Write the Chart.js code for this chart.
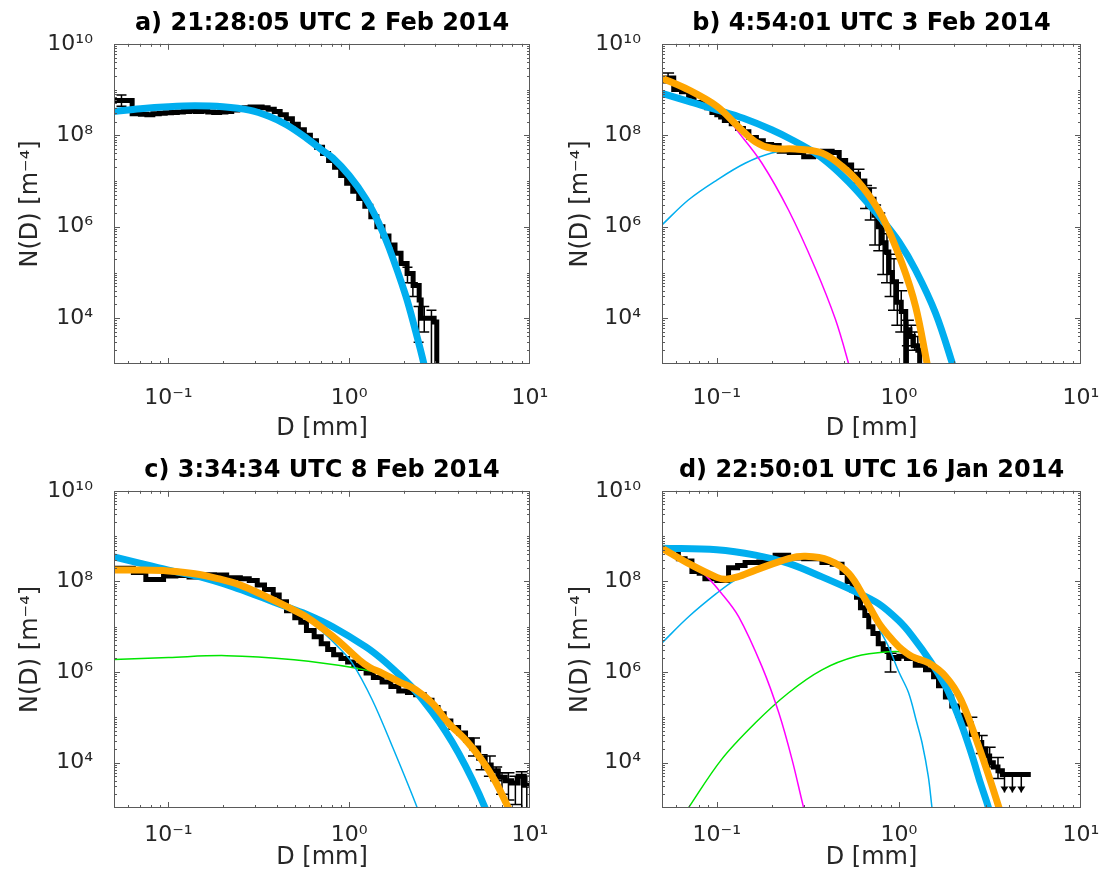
<!DOCTYPE html>
<html>
<head>
<meta charset="utf-8">
<title>N(D) fits</title>
<script src="https://cdn.jsdelivr.net/npm/chart.js@4.4.1/dist/chart.umd.min.js"></script>
<style>
  html, body { margin: 0; padding: 0; background: #fff; }
  #page { position: relative; width: 1100px; height: 886px; }
  canvas { position: absolute; }
</style>
</head>
<body>
<div id="page">
  <canvas id="pa" width="550" height="443" style="left:0;top:0"></canvas>
  <canvas id="pb" width="550" height="443" style="left:550px;top:0"></canvas>
  <canvas id="pc" width="550" height="443" style="left:0;top:443px"></canvas>
  <canvas id="pd" width="550" height="443" style="left:550px;top:443px"></canvas>
</div>
<script>
// tick values
const xTicks = [0.1, 1, 10];
const yTicks = [1e4, 1e6, 1e8, 1e10];

// a) 21:28:05 UTC 2 Feb 2014
const aD = [0.05, 0.063, 0.07, 0.076, 0.082, 0.089, 0.096, 0.104, 0.112, 0.121, 0.131, 0.141, 0.153, 0.165, 0.178, 0.192, 0.208, 0.224, 0.242, 0.262, 0.283, 0.305, 0.33, 0.356, 0.385, 0.415, 0.449, 0.485, 0.523, 0.565, 0.61, 0.659, 0.712, 0.769, 0.83, 0.897, 0.968, 1.046, 1.129, 1.22, 1.317, 1.422, 1.536, 1.659, 1.792, 1.935, 2.09, 2.257, 2.438, 2.5, 2.75, 2.95, 3.05];
const aN = [5.75e8, 2.95e8, 2.88e8, 2.82e8, 2.95e8, 3.02e8, 3.09e8, 3.16e8, 3.24e8, 3.31e8, 3.39e8, 3.31e8, 3.39e8, 3.24e8, 3.16e8, 3.24e8, 3.31e8, 3.55e8, 3.8e8, 3.98e8, 4.17e8, 4.17e8, 3.98e8, 3.72e8, 3.31e8, 2.82e8, 2.29e8, 1.74e8, 1.32e8, 1.0e8, 7.6e7, 5.5e7, 3.98e7, 2.82e7, 2.0e7, 1.32e7, 8.9e6, 6.0e6, 4.17e6, 2.82e6, 1.66e6, 1.0e6, 6.3e5, 4.0e5, 2.63e5, 1.58e5, 9.5e4, 5.2e4, 2.5e4, 1.0e4, 1.0e4, 8.3e3, 1e2];
const aErrD = [0.055, 2.1, 2.25, 2.42, 2.6, 2.85];
const aErrLo = [4.3e8, 6e4, 3.0e4, 3.0e3, 5e3, 1e2];
const aErrHi = [7.6e8, 1.3e5, 6e4, 1.8e4, 1.8e4, 1.5e4];
const aFitD = [0.05, 0.07, 0.1, 0.14, 0.2, 0.28, 0.36, 0.45, 0.58, 0.7, 0.81, 1.0, 1.24, 1.45, 1.66, 2.05, 2.3, 2.59, 2.7];
const aFitN = [3.3e8, 3.8e8, 4.2e8, 4.4e8, 4.2e8, 3.55e8, 2.6e8, 1.7e8, 8.7e7, 4.9e7, 3.2e7, 1.32e7, 4.0e6, 1.26e6, 3.5e5, 3.2e4, 6.3e3, 1.0e3, 4e2];

// b) 4:54:01 UTC 3 Feb 2014
const bD = [0.05, 0.058, 0.064, 0.07, 0.075, 0.082, 0.088, 0.094, 0.1, 0.105, 0.11, 0.12, 0.13, 0.14, 0.15, 0.165, 0.18, 0.2, 0.22, 0.25, 0.3, 0.34, 0.38, 0.43, 0.47, 0.51, 0.55, 0.6, 0.65, 0.69, 0.73, 0.77, 0.81, 0.85, 0.88, 0.92, 0.97, 1.03, 1.09, 1.1, 1.15, 1.2, 1.27, 1.3];
const bN = [1.78e9, 1.0e9, 8.9e8, 7.1e8, 5.2e8, 5.0e8, 4.0e8, 3.16e8, 2.82e8, 2.5e8, 2.1e8, 1.78e8, 1.41e8, 1.2e8, 8.9e7, 7.6e7, 6.3e7, 6.0e7, 4.5e7, 4.2e7, 3.4e7, 3.55e7, 4.5e7, 4.2e7, 2.8e7, 2.24e7, 1.41e7, 1.0e7, 6.3e6, 4.0e6, 1.78e6, 1.0e6, 4.5e5, 2.8e5, 1.0e5, 6.3e4, 2.24e4, 1.41e4, 1e2, 5.6e3, 4.0e3, 2.5e3, 2.0e3, 1e2];
const bErrD = [0.054, 0.6, 0.66, 0.7, 0.74, 0.78, 0.82, 0.86, 0.9, 0.94, 0.98, 1.03, 1.12, 1.17, 1.22, 1.27];
const bErrLo = [1.4e9, 9e6, 2.5e6, 1.4e6, 4e5, 3e5, 9e4, 6e4, 3e4, 1.5e4, 7e3, 5e3, 2.5e3, 2.5e3, 2e3, 2e3];
const bErrHi = [2.3e9, 1.8e7, 8e6, 7e6, 3e6, 2e6, 1e6, 7e5, 2.5e5, 2e5, 6e4, 4e4, 9e3, 7e3, 5e3, 4e3];
const bFitD = [0.05, 0.07, 0.1, 0.14, 0.2, 0.26, 0.347, 0.43, 0.53, 0.63, 0.81, 1.0, 1.236, 1.59, 1.97, 2.1];
const bFitN = [8.3e8, 5.5e8, 3.6e8, 2.35e8, 1.32e8, 7.9e7, 4.1e7, 2.1e7, 9.5e6, 4.5e6, 1.4e6, 4.7e5, 1.12e5, 1.29e4, 1.0e3, 4e2];
const bSumD = [0.05, 0.07, 0.1, 0.131, 0.163, 0.2, 0.27, 0.378, 0.487, 0.628, 0.81, 1.04, 1.236, 1.43, 1.5];
const bSumN = [1.78e9, 9.8e8, 4.3e8, 1.55e8, 7.2e7, 5.2e7, 5.0e7, 4.1e7, 2.1e7, 7.6e6, 1.66e6, 1.58e5, 1.78e4, 1.0e3, 4e2];
const bSmallD = [0.05, 0.07, 0.1, 0.135, 0.177, 0.248, 0.347, 0.448, 0.53, 0.56];
const bSmallN = [1.78e9, 9.5e8, 4.16e8, 1.02e8, 2.45e7, 2.3e6, 1.26e5, 9.5e3, 1.0e3, 4e2];
const bLargeD = [0.05, 0.07, 0.1, 0.143, 0.2, 0.27, 0.378, 0.487, 0.628, 0.81, 1.04, 1.236, 1.43, 1.5];
const bLargeN = [1.1e6, 3.9e6, 1.05e7, 2.45e7, 4.1e7, 4.8e7, 4.1e7, 2.1e7, 7.6e6, 1.66e6, 1.58e5, 1.78e4, 1.0e3, 4e2];

// c) 3:34:34 UTC 8 Feb 2014
const cD = [0.05, 0.064, 0.075, 0.094, 0.11, 0.13, 0.15, 0.18, 0.21, 0.25, 0.28, 0.31, 0.34, 0.38, 0.41, 0.45, 0.5, 0.54, 0.58, 0.64, 0.7, 0.76, 0.82, 0.9, 0.98, 1.06, 1.15, 1.24, 1.36, 1.52, 1.7, 1.88, 2.1, 2.33, 2.6, 2.87, 3.1, 3.35, 3.65, 4.03, 4.4, 4.76, 5.2, 5.65, 6.1, 6.68, 7.3, 7.9, 8.6, 9.3, 10];
const cN = [1.95e8, 1.58e8, 1.1e8, 1.32e8, 1.35e8, 1.26e8, 1.41e8, 1.38e8, 1.2e8, 1.15e8, 1.05e8, 8.3e7, 6.6e7, 5.0e7, 3.55e7, 2.24e7, 1.58e7, 1.26e7, 8.3e6, 6.0e6, 4.2e6, 3.16e6, 2.4e6, 2.0e6, 1.66e6, 1.41e6, 1.2e6, 9.5e5, 7.6e5, 6.0e5, 4.8e5, 3.8e5, 3.55e5, 3.16e5, 2.4e5, 1.66e5, 1.2e5, 8.3e4, 6.0e4, 4.5e4, 3.16e4, 2.1e4, 1.26e4, 8.9e3, 6.6e3, 4.8e3, 4.0e3, 3.55e3, 5.0e3, 3.16e3, 3.16e3];
const cErrD = [4.9, 5.4, 6.0, 6.5, 7.0, 7.6, 8.3, 9.0, 9.6];
const cErrLo = [1.4e4, 7e3, 5e3, 4e3, 2e3, 1.5e3, 1.2e3, 1e2, 1e2];
const cErrHi = [3.5e4, 1.5e4, 1.4e4, 8e3, 6e3, 6e3, 5e3, 6.3e3, 5e3];
const cFitD = [0.05, 0.07, 0.1, 0.15, 0.228, 0.33, 0.449, 0.6, 0.81, 1.236, 1.5, 1.88, 2.3, 2.87, 3.4, 4.03, 4.8, 5.65, 6.0];
const cFitN = [3.5e8, 2.5e8, 1.78e8, 1.26e8, 7.6e7, 4.4e7, 2.75e7, 1.78e7, 1.0e7, 3.6e6, 2.0e6, 8.9e5, 4.0e5, 1.32e5, 5.0e4, 1.62e4, 4.2e3, 1.0e3, 5e2];
const cSumD = [0.05, 0.07, 0.1, 0.14, 0.185, 0.25, 0.348, 0.45, 0.578, 0.72, 0.88, 1.135, 1.3, 1.52, 1.9, 2.33, 2.9, 3.55, 4.4, 5.41, 6.4, 7.6, 8.0];
const cSumN = [1.78e8, 1.78e8, 1.7e8, 1.48e8, 1.17e8, 8.3e7, 4.6e7, 2.8e7, 1.66e7, 8.9e6, 4.7e6, 1.86e6, 1.26e6, 9.5e5, 6.0e5, 4.1e5, 2.0e5, 7.4e4, 3.2e4, 1.15e4, 4e3, 1.0e3, 6.3e2];
const cLargeD = [0.05, 0.07, 0.1, 0.14, 0.185, 0.25, 0.348, 0.45, 0.578, 0.72, 0.88, 1.04, 1.34, 1.73, 2.38, 2.5];
const cLargeN = [1.76e8, 1.76e8, 1.68e8, 1.46e8, 1.15e8, 8.1e7, 4.4e7, 2.6e7, 1.47e7, 7.4e6, 3.4e6, 1.58e6, 2.45e5, 2.3e4, 1.0e3, 5e2];
const cMidD = [0.05, 0.1, 0.21, 0.495, 1.08, 1.52, 1.9, 2.33, 2.9, 3.55, 4.4, 5.41, 6.4, 7.6, 8.0];
const cMidN = [1.9e6, 2.1e6, 2.3e6, 1.86e6, 1.23e6, 8.9e5, 5.9e5, 4.1e5, 2.0e5, 7.4e4, 3.2e4, 1.15e4, 4e3, 1.0e3, 6.3e2];

// d) 22:50:01 UTC 16 Jan 2014
const dD = [0.05, 0.0615, 0.067, 0.073, 0.08, 0.086, 0.1, 0.116, 0.13, 0.143, 0.17, 0.209, 0.248, 0.3, 0.378, 0.43, 0.487, 0.52, 0.553, 0.585, 0.615, 0.65, 0.683, 0.72, 0.77, 0.82, 0.88, 0.94, 1.0, 1.1, 1.23, 1.4, 1.55, 1.65, 1.8, 1.95, 2.1, 2.3, 2.5, 2.7, 2.85, 3.0, 3.15, 3.3, 3.5, 3.7, 5.3];
const dN = [5.2e8, 3.16e8, 2.82e8, 1.66e8, 1.51e8, 1.15e8, 1.05e8, 2.0e8, 2.24e8, 2.63e8, 2.7e8, 3.8e8, 3.3e8, 3.16e8, 2.63e8, 2.4e8, 1.58e8, 1.0e8, 6.3e7, 4.5e7, 2.63e7, 1.78e7, 1.0e7, 7.1e6, 4.2e6, 3.16e6, 2.1e6, 2.0e6, 2.24e6, 2.0e6, 1.41e6, 1.12e6, 7.9e5, 5.0e5, 2.8e5, 1.78e5, 1.12e5, 7.1e4, 4.2e4, 2.8e4, 2.0e4, 1.41e4, 1.0e4, 8e3, 6.6e3, 5.5e3, 5.5e3];
const dErrD = [0.9, 2.5, 2.85, 3.15, 3.5, 3.8, 4.2, 4.7];
const dErrLo = [1.0e6, 4e4, 1.6e4, 8e3, 4.5e3, 2.2e3, 2.2e3, 2.2e3];
const dErrHi = [2.6e6, 1.0e5, 4e4, 2.2e4, 1.3e4, 6e3, 6e3, 6e3];
const dErrArrow = [0, 0, 0, 0, 0, 1, 1, 1];
const dFitD = [0.05, 0.1, 0.163, 0.248, 0.378, 0.578, 0.776, 1.0, 1.18, 1.5, 1.81, 1.98, 2.25, 2.53, 2.8, 3.13, 3.3];
const dFitN = [5.4e8, 5.0e8, 3.8e8, 2.5e8, 1.26e8, 5.9e7, 3.2e7, 1.35e7, 6.3e6, 1.66e6, 4.8e5, 2.14e5, 5.6e4, 1.38e4, 3.6e3, 9e2, 3e2];
const dSumD = [0.05, 0.0698, 0.1, 0.112, 0.13, 0.163, 0.248, 0.307, 0.412, 0.53, 0.656, 0.776, 0.88, 1.0, 1.18, 1.46, 1.81, 2.19, 2.75, 3.55, 3.7];
const dSumN = [5.4e8, 2.5e8, 1.23e8, 1.12e8, 1.26e8, 1.78e8, 3.2e8, 3.6e8, 2.95e8, 1.51e8, 3.9e7, 1.2e7, 6.3e6, 3.6e6, 2.2e6, 1.58e6, 7.9e5, 2.45e5, 2.24e4, 1.0e3, 5e2];
const dSmallD = [0.05, 0.0698, 0.083, 0.106, 0.132, 0.177, 0.219, 0.259, 0.3, 0.32];
const dSmallN = [5.4e8, 2.33e8, 1.6e8, 5.5e7, 1.66e7, 1.32e6, 1.26e5, 1.17e4, 1.0e3, 4e2];
const dLargeD = [0.05, 0.07, 0.1, 0.126, 0.163, 0.248, 0.307, 0.412, 0.53, 0.656, 0.776, 0.88, 1.0, 1.13, 1.25, 1.34, 1.45, 1.52, 1.6];
const dLargeN = [4.4e6, 1.66e7, 5.5e7, 1.07e8, 1.74e8, 3.2e8, 3.6e8, 2.95e8, 1.48e8, 3.8e7, 9.4e6, 3.5e6, 1.0e6, 3.5e5, 8e4, 2.75e4, 5e3, 1.0e3, 2e2];
const dMidD = [0.065, 0.0698, 0.106, 0.163, 0.248, 0.378, 0.578, 0.88, 1.09, 1.3, 1.46, 1.81, 2.19, 2.75, 3.55, 3.7];
const dMidN = [6.3e2, 1.0e3, 1.17e4, 7.6e4, 3.5e5, 1.12e6, 2.2e6, 2.8e6, 2.7e6, 2.0e6, 1.5e6, 7.9e5, 2.45e5, 2.24e4, 1.0e3, 5e2];

const BLUE = '#00aeef', ORANGE = '#ffa500', MAGENTA = '#ff00ff', GREEN = '#00e600';
const AXIS = '#262626';

Chart.defaults.font.family = "'DejaVu Sans', sans-serif";
Chart.defaults.color = AXIS;
Chart.defaults.animation = false;

const SUP = {'-': '\u207B', '0': '\u2070', '1': '\u00B9', '2': '\u00B2', '3': '\u00B3', '4': '\u2074',
             '5': '\u2075', '6': '\u2076', '7': '\u2077', '8': '\u2078', '9': '\u2079'};
function powLabel(v) {
  const e = String(Math.round(Math.log10(v)));
  return '10' + e.split('').map(c => SUP[c]).join('');
}

function pts(xs, ys) { return xs.map((x, i) => ({x: x, y: ys[i]})); }

function measured(xs, ys) {
  return {data: pts(xs, ys), showLine: true, stepped: true, borderColor: '#000',
          borderWidth: 5, pointRadius: 0, order: 4, clip: 0};
}
function curve(xs, ys, color, width, order) {
  return {data: pts(xs, ys), showLine: true, borderColor: color, borderWidth: width,
          pointRadius: 0, tension: 0.35, order: order, clip: 0};
}

// box with inward major/minor ticks on all four sides
const frame = {
  id: 'frame',
  afterDatasetsDraw(chart) {
    const {ctx, chartArea: a, scales: {x, y}} = chart;
    ctx.save();
    ctx.strokeStyle = '#5a5a5a';
    ctx.lineWidth = 1;
    ctx.beginPath();
    for (let e = -2; e <= 1; e++) {
      for (let m = 1; m <= 9; m++) {
        const v = m * Math.pow(10, e);
        if (v <= x.min || v >= x.max) continue;
        const px = Math.round(x.getPixelForValue(v)) + 0.5;
        const len = m === 1 ? 6 : 3;
        ctx.moveTo(px, a.bottom); ctx.lineTo(px, a.bottom - len);
        ctx.moveTo(px, a.top); ctx.lineTo(px, a.top + len);
      }
    }
    for (let e = 3; e <= 10; e++) {
      for (let m = 1; m <= 9; m++) {
        const v = m * Math.pow(10, e);
        if (v <= y.min || v >= y.max) continue;
        const py = Math.round(y.getPixelForValue(v)) + 0.5;
        const len = (m === 1 && e % 2 === 0) ? 6 : 3;
        ctx.moveTo(a.left, py); ctx.lineTo(a.left + len, py);
        ctx.moveTo(a.right, py); ctx.lineTo(a.right - len, py);
      }
    }
    ctx.stroke();
    ctx.strokeRect(Math.round(a.left) + 0.5, Math.round(a.top) + 0.5,
                   Math.round(a.width) - 1, Math.round(a.height) - 1);
    ctx.restore();
  }
};

// error bars of the measured spectrum
const errbars = {
  id: 'errbars',
  beforeDatasetsDraw(chart, args, opts) {
    if (!opts.d) return;
    const {ctx, chartArea: a, scales: {x, y}} = chart;
    const cap = opts.cap || 5;
    ctx.save();
    ctx.beginPath();
    ctx.rect(a.left, a.top, a.width, a.height);
    ctx.clip();
    ctx.strokeStyle = '#000';
    ctx.fillStyle = '#000';
    ctx.lineWidth = 1.5;
    opts.d.forEach((d, i) => {
      const px = x.getPixelForValue(d);
      const lo = y.getPixelForValue(opts.lo[i]);
      const hi = y.getPixelForValue(opts.hi[i]);
      const arrow = opts.arrow && opts.arrow[i];
      ctx.beginPath();
      ctx.moveTo(px, hi); ctx.lineTo(px, lo);
      ctx.moveTo(px - cap, hi); ctx.lineTo(px + cap, hi);
      if (!arrow) { ctx.moveTo(px - cap, lo); ctx.lineTo(px + cap, lo); }
      ctx.stroke();
      if (arrow) {
        ctx.beginPath();
        ctx.moveTo(px - 4, lo - 6); ctx.lineTo(px + 4, lo - 6); ctx.lineTo(px, lo);
        ctx.closePath();
        ctx.fill();
      }
    });
    ctx.restore();
  }
};

function panel(id, title, o) {
  new Chart(document.getElementById(id), {
    type: 'scatter',
    data: {datasets: o.datasets},
    options: {
      responsive: false,
      events: [],
      layout: {padding: {left: 0, right: o.right, top: 0, bottom: 0}},
      plugins: {
        legend: {display: false},
        tooltip: {enabled: false},
        title: {display: true, text: title, fullSize: false, color: '#000',
                font: {size: 24, weight: 'bold'}, padding: {top: o.titleTop, bottom: 6}},
        errbars: o.err
      },
      scales: {
        x: {
          type: 'logarithmic', min: 0.05, max: 10,
          afterBuildTicks: s => { s.ticks = xTicks.map(v => ({value: v})); },
          afterFit: s => { s.height = o.xH; s.paddingLeft = 0; s.paddingRight = 0; },
          grid: {display: false}, border: {display: false},
          ticks: {callback: v => powLabel(v), font: {size: 22}, color: AXIS, padding: o.xTickPad,
                  maxRotation: 0, autoSkip: false},
          title: {display: true, text: 'D [mm]', font: {size: 24}, color: AXIS,
                  padding: {top: 0, bottom: o.xTitleBottom}}
        },
        y: {
          type: 'logarithmic', min: 1e3, max: 1e10,
          afterBuildTicks: s => { s.ticks = yTicks.map(v => ({value: v})); },
          afterFit: s => { s.width = o.yW; s.paddingTop = 0; s.paddingBottom = 0; },
          grid: {display: false}, border: {display: false},
          ticks: {callback: v => powLabel(v), font: {size: 22}, color: AXIS, padding: 13,
                  autoSkip: false},
          title: {display: true, text: 'N(D) [m\u207B\u2074]', font: {size: 24}, color: AXIS,
                  padding: {top: 16, bottom: 0}}
        }
      }
    },
    plugins: [errbars, frame]
  });
}

panel('pa', 'a) 21:28:05 UTC 2 Feb 2014', {
  right: 20, yW: 114, xH: 79, titleTop: 9, xTickPad: 13, xTitleBottom: 0,
  err: {d: aErrD, lo: aErrLo, hi: aErrHi, cap: 5},
  datasets: [measured(aD, aN), curve(aFitD, aFitN, BLUE, 7, 2)]
});

panel('pb', 'b) 4:54:01 UTC 3 Feb 2014', {
  right: 19, yW: 112, xH: 79, titleTop: 9, xTickPad: 13, xTitleBottom: 0,
  err: {d: bErrD, lo: bErrLo, hi: bErrHi, cap: 6},
  datasets: [measured(bD, bN), curve(bFitD, bFitN, BLUE, 7, 2),
             curve(bSmallD, bSmallN, MAGENTA, 1.5, 1), curve(bLargeD, bLargeN, BLUE, 1.5, 1),
             curve(bSumD, bSumN, ORANGE, 7, 0)]
});

panel('pc', 'c) 3:34:34 UTC 8 Feb 2014', {
  right: 20, yW: 114, xH: 78, titleTop: 13, xTickPad: 6, xTitleBottom: 14,
  err: {d: cErrD, lo: cErrLo, hi: cErrHi, cap: 6},
  datasets: [measured(cD, cN), curve(cFitD, cFitN, BLUE, 7, 2),
             curve(cLargeD, cLargeN, BLUE, 1.5, 1), curve(cMidD, cMidN, GREEN, 1.5, 1),
             curve(cSumD, cSumN, ORANGE, 7, 0)]
});

panel('pd', 'd) 22:50:01 UTC 16 Jan 2014', {
  right: 19, yW: 112, xH: 78, titleTop: 13, xTickPad: 6, xTitleBottom: 14,
  err: {d: dErrD, lo: dErrLo, hi: dErrHi, arrow: dErrArrow, cap: 6},
  datasets: [measured(dD, dN), curve(dFitD, dFitN, BLUE, 7, 2),
             curve(dSmallD, dSmallN, MAGENTA, 1.5, 1), curve(dLargeD, dLargeN, BLUE, 1.5, 1),
             curve(dMidD, dMidN, GREEN, 1.5, 1), curve(dSumD, dSumN, ORANGE, 7, 0)]
});
</script>
</body>
</html>
